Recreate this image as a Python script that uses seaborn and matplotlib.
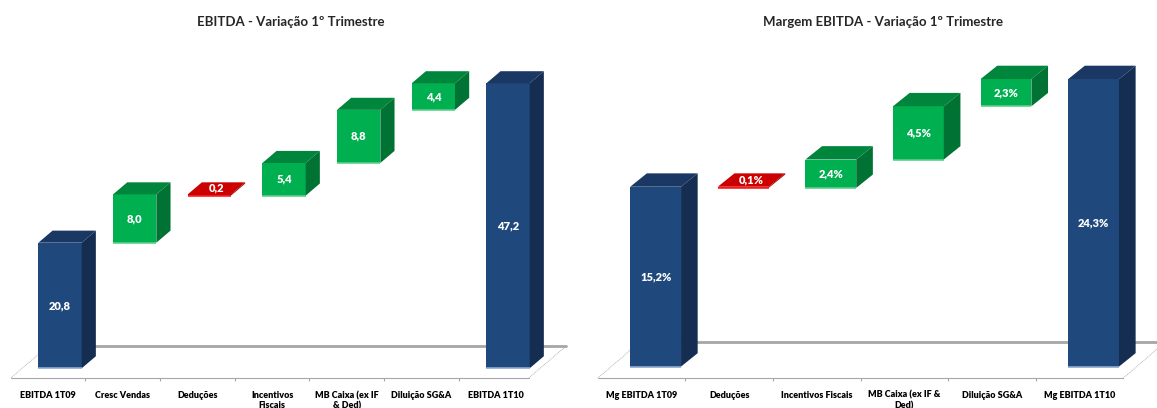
import numpy as np
import pandas as pd
import matplotlib.pyplot as plt
import seaborn as sns

# EBITDA (R$ milhões) - variação 1T09 -> 1T10
ebitda_cats = ['EBITDA 1T09', 'Cresc Vendas', 'Deduções', 'Incentivos\nFiscais',
               'MB Caixa (ex IF\n& Ded)', 'Diluição SG&A', 'EBITDA 1T10']
ebitda_vals = [20.8, 8.0, -0.2, 5.4, 8.8, 4.4, 47.2]
ebitda_total = [True, False, False, False, False, False, True]

# Margem EBITDA (%)
margem_cats = ['Mg EBITDA 1T09', 'Deduções', 'Incentivos Fiscais',
               'MB Caixa (ex IF &\nDed)', 'Diluição SG&A', 'Mg EBITDA 1T10']
margem_vals = [15.2, -0.1, 2.4, 4.5, 2.3, 24.3]
margem_total = [True, False, False, False, False, True]

sns.set_theme(style="white")
plt.rcParams['font.family'] = ['Lato', 'DejaVu Sans']

# cores (frente, topo, lado)
cores = {
    'total': ('#1F497D', '#1B3763', '#162D52'),
    'up': ('#00B050', '#00863C', '#007233'),
    'down': ('#C00000', '#CC0000', '#A00000'),
}
borda = {'total': '#8EA9CC', 'up': '#5CCF8A', 'down': '#FF2020'}
cinza = '#A6A6A6'


def cascata(ax, cats, vals, totais, sufixo, dx, dy, piso, xlim, ylim):
    # monta bases/alturas da cascata
    run = 0
    bases, alturas, tipos = [], [], []
    for v, t in zip(vals, totais):
        if t:
            bases.append(0); alturas.append(v); tipos.append('total'); run = v
        elif v >= 0:
            bases.append(run); alturas.append(v); tipos.append('up'); run += v
        else:
            run += v; bases.append(run); alturas.append(-v); tipos.append('down')

    df = pd.DataFrame({'cat': cats, 'altura': alturas, 'base': bases})

    # piso 3D (linha de fundo atrás das barras)
    fy, by_, fx0, fx1, pdx = piso
    ax.plot([fx0 + pdx, fx1 + pdx], [by_, by_], color=cinza, lw=2, zorder=1, clip_on=False)
    ax.plot([fx0, fx1], [fy, fy], color=cinza, lw=0.8, zorder=1, clip_on=False)
    ax.plot([fx0, fx0 + pdx], [fy, by_], color=cinza, lw=0.6, ls=(0, (1, 1)), zorder=1, clip_on=False)
    ax.plot([fx1, fx1 + pdx], [fy, by_], color=cinza, lw=0.6, ls=(0, (1, 1)), zorder=1, clip_on=False)

    sns.barplot(data=df, x='cat', y='altura', bottom=df['base'].to_numpy(),
                width=0.58, color=cores['total'][0], linewidth=0, ax=ax, zorder=3)

    for p, tipo, v in zip(ax.patches, tipos, vals):
        frente, topo, lado = cores[tipo]
        p.set_facecolor(frente)
        x0, w = p.get_x(), p.get_width()
        y0, h = p.get_y(), p.get_height()
        x1, y1 = x0 + w, y0 + h
        ax.fill([x0, x0 + dx, x1 + dx, x1], [y1, y1 + dy, y1 + dy, y1],
                color=topo, lw=0, zorder=3)
        ax.fill([x1, x1 + dx, x1 + dx, x1], [y0, y0 + dy, y1 + dy, y1],
                color=lado, lw=0, zorder=3)
        ax.plot([x0, x1], [y0, y0], color=borda[tipo], lw=1.2, zorder=4,
                solid_capstyle='butt')
        txt = f"{abs(v):.1f}".replace('.', ',') + sufixo
        if tipo == 'down':
            tx, ty = x0 + w / 2 + dx / 2, y1 + dy / 2
        else:
            tx, ty = x0 + w / 2, y0 + h / 2
        ax.text(tx, ty, txt, color='white', fontsize=8, fontweight='heavy',
                ha='center', va='center', zorder=5)

    n = len(cats)
    desloc = 0.16
    ax.set_xticks(np.arange(n) - desloc)
    ax.set_xticklabels(cats, fontsize=6.5, fontweight='heavy', color='black',
                       linespacing=1.15, va='top')
    ax.tick_params(axis='x', length=0, pad=5.5)
    ax.set_yticks([])
    ax.vlines(np.arange(n - 1) + 0.5 - desloc, fy - (ylim[1] - ylim[0]) * 0.01, fy,
              color=cinza, lw=0.8, clip_on=False)
    ax.set_xlabel('')
    ax.set_ylabel('')
    ax.set_xlim(*xlim)
    ax.set_ylim(*ylim)
    for s in ax.spines.values():
        s.set_visible(False)


fig = plt.figure(figsize=(11.57, 4.08), dpi=100)
ax1 = fig.add_axes([0.00864, 0.0603, 0.484, 0.777])
ax2 = fig.add_axes([0.5167, 0.061, 0.483, 0.8235])

cascata(ax1, ebitda_cats, ebitda_vals, ebitda_total, '', dx=0.19, dy=2.0,
        piso=(-1.56, 3.69, -0.656, 6.28, 0.5), xlim=(-0.67, 6.83), ylim=(-2.5, 50))
cascata(ax2, margem_cats, margem_vals, margem_total, '%', dx=0.19, dy=1.13,
        piso=(-0.97, 2.07, -0.66, 5.34, 0.48), xlim=(-0.66, 5.72), ylim=(-1.4, 27))

fig.text(291 / 1157, 1 - 22 / 408, 'EBITDA - Variação 1º Trimestre', ha='center',
         va='center', fontsize=9.5, fontweight='bold')
fig.text(883 / 1157, 1 - 22 / 408, 'Margem EBITDA - Variação 1º Trimestre', ha='center',
         va='center', fontsize=9.5, fontweight='bold')

fig.savefig('out.png', dpi=100)
